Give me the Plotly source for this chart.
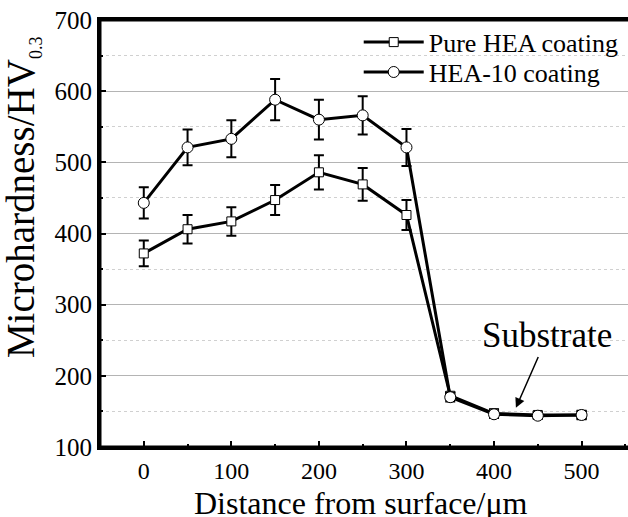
import plotly.graph_objects as go

# Microhardness profiles across the coating cross-section
distance = [0, 50, 100, 150, 200, 250, 300, 350, 400, 450, 500]

pure_hea = [372, 406, 417, 447, 486, 469, 426, 172, 147, 145, 145]
pure_hea_err = [18, 20, 20, 21, 24, 23, 21, 5, 6, 4, 6]

hea10 = [443, 521, 533, 588, 560, 566, 521, 170, 146, 144, 145]
hea10_err = [22, 25, 26, 29, 28, 27, 26, 6, 5, 4, 5]

FONT = "Liberation Serif"

fig = go.Figure()

fig.add_trace(go.Scatter(
    x=distance, y=pure_hea, name="Pure HEA coating", legend="legend",
    mode="lines+markers",
    line=dict(color="black", width=3),
    marker=dict(symbol="square", size=9, color="white",
                line=dict(color="black", width=1)),
    error_y=dict(type="data", array=pure_hea_err, visible=True,
                 color="black", thickness=2, width=5),
))

fig.add_trace(go.Scatter(
    x=distance, y=hea10, name="HEA-10 coating", legend="legend2",
    mode="lines+markers",
    line=dict(color="black", width=3),
    marker=dict(symbol="circle", size=11, color="white",
                line=dict(color="black", width=1)),
    error_y=dict(type="data", array=hea10_err, visible=True,
                 color="black", thickness=2, width=5),
))

fig.add_annotation(
    x=425, y=155, xref="x", yref="y",
    ax=461, ay=256, axref="x", ayref="y",
    text="Substrate", showarrow=True,
    arrowhead=2, arrowsize=1.3, arrowwidth=1.5, arrowcolor="black",
    font=dict(family=FONT, size=35, color="black"),
)

# axis titles as free annotations for exact placement
fig.add_annotation(
    x=-0.148, y=0.585, xref="paper", yref="paper",
    xanchor="center", yanchor="middle", textangle=-90, showarrow=False,
    text="Microhardness/HV<sub><span style='font-size:18px'>0.3</span></sub>",
    font=dict(family=FONT, size=39, color="black"),
)
fig.add_annotation(
    x=0.494, y=-0.131, xref="paper", yref="paper",
    xanchor="center", yanchor="middle", showarrow=False,
    text="Distance from surface/μm",
    font=dict(family=FONT, size=32, color="black"),
)

# heavy frame: bottom, left and top edges of the plot area
for x0, y0, x1, y1 in [(0, 0, 1, 0), (0, 0, 0, 1), (0, 1, 1, 1)]:
    fig.add_shape(type="line", xref="paper", yref="paper",
                  x0=x0, y0=y0, x1=x1, y1=y1, layer="above",
                  line=dict(color="black", width=3))

legend_style = dict(
    x=0.49, xanchor="left", yanchor="middle",
    bgcolor="rgba(0,0,0,0)", borderwidth=0,
    font=dict(family=FONT, size=26, color="black"),
    itemwidth=60,
)

fig.update_layout(
    template="none",
    width=628, height=517,
    margin=dict(l=100, r=0, t=20, b=70),
    paper_bgcolor="white", plot_bgcolor="white",
    font=dict(family=FONT, color="black"),
    showlegend=True,
    legend=dict(y=0.948, **legend_style),
    legend2=dict(y=0.878, **legend_style),
    xaxis=dict(
        range=[-50, 553], tickmode="linear", tick0=0, dtick=100,
        showline=True, linecolor="black", linewidth=3, mirror=True,
        ticks="inside", ticklen=6, tickwidth=2, tickcolor="black",
        minor=dict(dtick=50, ticks="inside", ticklen=3, tickwidth=2,
                   tickcolor="black", showgrid=False),
        showgrid=False, zeroline=False, automargin=False,
        tickfont=dict(family=FONT, size=24, color="black"),
    ),
    yaxis=dict(
        range=[100, 700], tickmode="linear", tick0=100, dtick=100,
        showline=True, linecolor="black", linewidth=3, mirror=False,
        ticks="inside", ticklen=6, tickwidth=2, tickcolor="black",
        showgrid=True, gridcolor="#b4b4b4", gridwidth=1,
        minor=dict(dtick=50, ticks="inside", ticklen=3, tickwidth=2,
                   tickcolor="black", showgrid=True,
                   gridcolor="#d0d0d0", griddash="dot", gridwidth=1),
        zeroline=False, automargin=False,
        tickfont=dict(family=FONT, size=25, color="black"),
    ),
)

fig.write_html("out.html")
